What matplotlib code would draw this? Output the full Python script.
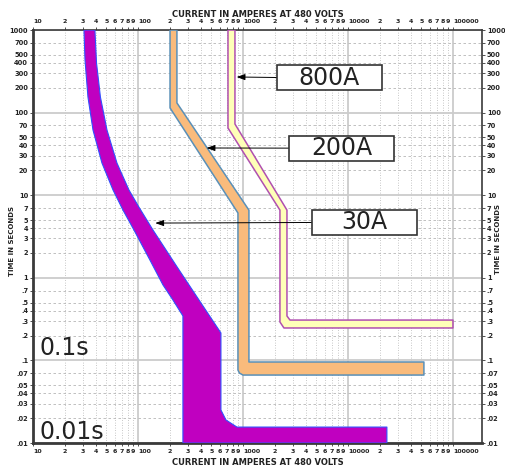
import matplotlib
matplotlib.use("Agg")
import matplotlib.pyplot as plt
from matplotlib.patches import Rectangle
from matplotlib.ticker import FixedLocator, FixedFormatter

# time-current bands: current (A) vs time (s)
# left edge = minimum melting, right edge = total clearing
fuse_30_melt_i = [30.6, 31.3, 33.4, 37.3, 45.4, 57.8, 72.0, 91.6, 130, 173, 215, 268, 268]
fuse_30_melt_t = [1000, 433, 154, 61.5, 24.5, 11.6, 6.6, 3.79, 1.64, 0.82, 0.54, 0.345, 0.01]
fuse_30_clear_i = [38.9, 40.3, 43.9, 50.7, 63.1, 82.0, 102, 139, 240, 381, 617, 617, 689, 877, 23500, 23500]
fuse_30_clear_t = [1000, 398, 154, 61.5, 24.5, 11.6, 7.2, 3.79, 1.31, 0.54, 0.215, 0.0251, 0.019, 0.0156, 0.0156, 0.01]

fuse_200_melt_i = [202, 202, 896, 896, 926, 1000, 52900]
fuse_200_melt_t = [1000, 114, 6.09, 0.0765, 0.0703, 0.0665, 0.0665]
fuse_200_clear_i = [235, 235, 1140, 1140, 52900]
fuse_200_clear_t = [1000, 131, 6.6, 0.0957, 0.0957]

fuse_800_melt_i = [720, 720, 2250, 2250, 2456, 100000]
fuse_800_melt_t = [1000, 65.1, 6.6, 0.292, 0.247, 0.247]
fuse_800_clear_i = [839, 839, 2625, 2625, 2805, 100000]
fuse_800_clear_t = [1000, 72.8, 6.6, 0.345, 0.308, 0.308]

fuse_labels = ["800A", "200A", "30A"]
arrow_tip_i = [870, 450, 146]
arrow_tip_t = [270, 37.3, 4.6]

x_major = [10, 100, 1000, 10000, 100000]
x_major_labels = ["10", "100", "1000", "10000", "100000"]
y_major = [0.01, 0.1, 1, 10, 100, 1000]
y_major_labels = [".01", ".1", "1", "10", "100", "1000"]
y_minor_steps = [2, 3, 4, 5, 7]

fig = plt.figure(figsize=(5.05, 4.69), dpi=100)
ax = fig.add_axes([0.0653, 0.0554, 0.8891, 0.8806])
ax.set_xscale("log")
ax.set_yscale("log")
ax.set_xlim(10, 1.89e5)
ax.set_ylim(0.01, 1000)

bands = [
    (fuse_30_melt_i, fuse_30_melt_t, fuse_30_clear_i, fuse_30_clear_t, "#c000c0", "#3050ff", 0.8),
    (fuse_200_melt_i, fuse_200_melt_t, fuse_200_clear_i, fuse_200_clear_t, "#f9bb7c", "#5a90b8", 1.1),
    (fuse_800_melt_i, fuse_800_melt_t, fuse_800_clear_i, fuse_800_clear_t, "#ffffb8", "#b050b0", 1.1),
]
for mi, mt, ci, ct, face, edge, lw in bands:
    xs = list(mi) + list(ci)[::-1]
    ys = list(mt) + list(ct)[::-1]
    ax.fill(xs, ys, facecolor=face, edgecolor=edge, lw=lw, zorder=3, joinstyle="round")

# ticks
x_minor = [k * d for d in x_major[:-1] for k in range(2, 10)]
x_minor_labels = [str(k) for d in x_major[:-1] for k in range(2, 10)]
y_minor = [k * d for d in y_major[:-1] for k in y_minor_steps]
y_minor_labels = []
for v in y_minor:
    s = "%g" % v
    y_minor_labels.append(s[1:] if s.startswith("0.") else s)

ax.xaxis.set_major_locator(FixedLocator(x_major))
ax.xaxis.set_major_formatter(FixedFormatter(x_major_labels))
ax.xaxis.set_minor_locator(FixedLocator(x_minor))
ax.xaxis.set_minor_formatter(FixedFormatter(x_minor_labels))
ax.yaxis.set_major_locator(FixedLocator(y_major))
ax.yaxis.set_major_formatter(FixedFormatter(y_major_labels))
ax.yaxis.set_minor_locator(FixedLocator(y_minor))
ax.yaxis.set_minor_formatter(FixedFormatter(y_minor_labels))

ax.tick_params(which="both", direction="out", length=2, width=0.6, color="#333333",
               top=True, right=True, labeltop=True, labelright=True)
ax.tick_params(axis="x", which="both", labelsize=4.5, pad=2)
ax.tick_params(axis="y", which="both", labelsize=4.8, pad=1.5)
for t in ax.xaxis.get_major_ticks():
    t.label1.set_ha("left")
    t.label2.set_ha("left")
for t in (ax.xaxis.get_minor_ticks() + ax.xaxis.get_major_ticks()
          + ax.yaxis.get_minor_ticks() + ax.yaxis.get_major_ticks()):
    for lbl in (t.label1, t.label2):
        lbl.set_fontweight("bold")
        lbl.set_color("#222222")

# grid
ax.grid(which="major", color="#cccccc", lw=1.3, ls="-", zorder=0)
ax.yaxis.grid(which="minor", color="#b5b5b5", lw=0.6, ls=(0, (3, 3)), zorder=0)
ax.xaxis.grid(which="minor", color="#b5b5b5", lw=0.6, ls=(0, (1, 2)), zorder=0)
ax.set_axisbelow(True)

for side, w in (("left", 2.0), ("bottom", 2.0), ("top", 1.2), ("right", 1.2)):
    ax.spines[side].set_linewidth(w)
    ax.spines[side].set_color("#3a3a3a")

# callout boxes
box_cx = [0.660, 0.688, 0.738]
box_cy = [0.885, 0.714, 0.534]
bw, bh = 0.234, 0.0605
for lab, ti, tt, cx, cy in zip(fuse_labels, arrow_tip_i, arrow_tip_t, box_cx, box_cy):
    ax.annotate("", xy=(ti, tt), xycoords="data", xytext=(cx - bw / 2, cy),
                textcoords="axes fraction",
                arrowprops=dict(arrowstyle="-|>,head_length=0.5,head_width=0.18",
                                color="black", lw=0.7, shrinkA=0, shrinkB=0),
                zorder=5)
    ax.add_patch(Rectangle((cx - bw / 2, cy - bh / 2), bw, bh, transform=ax.transAxes,
                           facecolor="white", edgecolor="#333333", lw=1.2, zorder=6))
    ax.text(cx, cy, lab, transform=ax.transAxes, ha="center", va="center",
            fontsize=17, color="#222222", zorder=7)

ax.text(0.0156, 0.23, "0.1s", transform=ax.transAxes, ha="left", va="center",
        fontsize=17, color="#222222", zorder=7)
ax.text(0.0156, 0.027, "0.01s", transform=ax.transAxes, ha="left", va="center",
        fontsize=17, color="#222222", zorder=7)

fig.text(0.511, 0.970, "CURRENT IN AMPERES AT 480 VOLTS", ha="center", va="center",
         fontsize=6, fontweight="bold", color="#222222")
fig.text(0.511, 0.0128, "CURRENT IN AMPERES AT 480 VOLTS", ha="center", va="center",
         fontsize=6, fontweight="bold", color="#222222")
fig.text(0.0238, 0.486, "TIME IN SECONDS", ha="center", va="center", rotation=90,
         fontsize=5, fontweight="bold", color="#222222")
fig.text(0.987, 0.49, "TIME IN SECONDS", ha="center", va="center", rotation=90,
         fontsize=5, fontweight="bold", color="#222222")

fig.savefig("out.png", dpi=100)
